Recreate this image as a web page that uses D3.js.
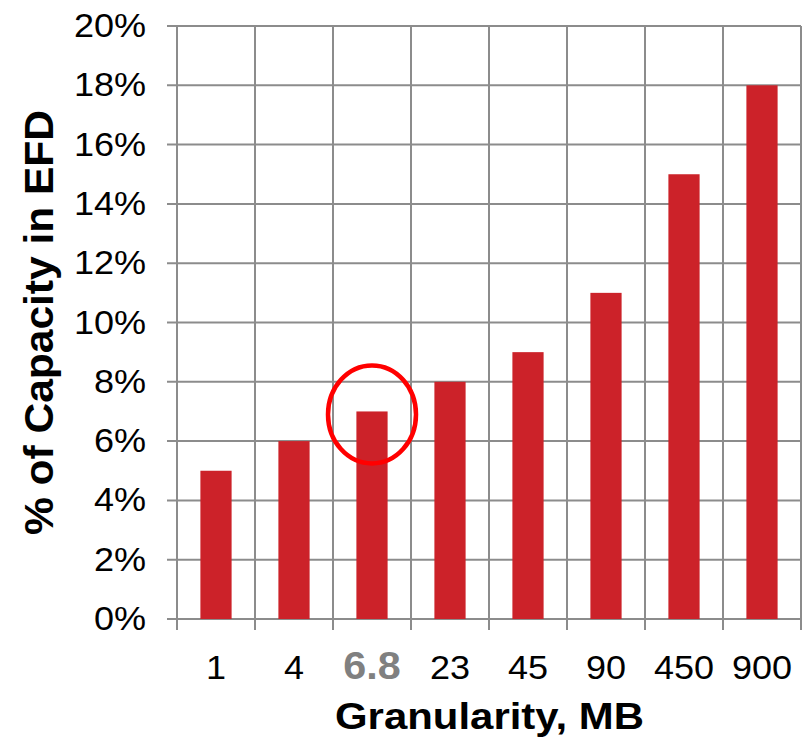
<!DOCTYPE html>
<html><head><meta charset="utf-8">
<script src="https://cdn.jsdelivr.net/npm/d3@7"></script>
<style>body{margin:0;background:#fff}svg{display:block}</style>
</head><body>
<script>
const categories = ["1","4","6.8","23","45","90","450","900"];
const values = [5,6,7,8,9,11,15,18];
const yTicks = [0,2,4,6,8,10,12,14,16,18,20];
const highlighted = "6.8";

const W = 804, H = 739;
const m = {left:177, right:3, top:26, bottom:120};
const svg = d3.select("body").append("svg").attr("width",W).attr("height",H)
  .style("font-family","'Liberation Sans', Arial, sans-serif");

const x = d3.scaleBand().domain(categories).range([m.left, W-m.right]).paddingInner(0.6).paddingOuter(0.3);
const xb = d3.scaleBand().domain(categories).range([m.left, W-m.right]);
const y = d3.scaleLinear().domain([0,20]).range([H-m.bottom, m.top]);
const grid = "#8c8c8c";

// horizontal gridlines + left ticks
svg.append("g").selectAll("line").data(yTicks).join("line")
  .attr("x1", m.left-10).attr("x2", W-m.right)
  .attr("y1", d=>y(d)).attr("y2", d=>y(d))
  .attr("stroke", grid).attr("stroke-width", 2);
// vertical gridlines
const vx = categories.map(c=>xb(c)).concat([xb(categories[categories.length-1])+xb.bandwidth()]);
svg.append("g").selectAll("line").data(vx).join("line")
  .attr("x1", d=>d).attr("x2", d=>d)
  .attr("y1", m.top).attr("y2", y(0)+11)
  .attr("stroke", grid).attr("stroke-width", 2);

// bars
svg.append("g").selectAll("rect").data(values).join("rect")
  .attr("x",(d,i)=>x(categories[i])).attr("width",x.bandwidth())
  .attr("y",d=>y(d)).attr("height",d=>y(0)-y(d))
  .attr("fill","#cc2229");

// y labels
svg.append("g").selectAll("text").data(yTicks).join("text")
  .attr("transform", d=>`translate(146,${y(d)+11}) scale(1.06,1)`)
  .attr("text-anchor","end").attr("font-size",34).attr("fill","#000")
  .text(d=>d+"%");

// x labels
svg.append("g").selectAll("text").data(categories).join("text")
  .attr("transform", d=>`translate(${xb(d)+xb.bandwidth()/2},679) scale(1.06,1)`)
  .attr("text-anchor","middle")
  .attr("font-size", d=>d===highlighted?39:34)
  .attr("font-weight", d=>d===highlighted?"bold":"normal")
  .attr("fill", d=>d===highlighted?"#808080":"#000")
  .text(d=>d);

// highlight ellipse
const hi = categories.indexOf(highlighted);
svg.append("ellipse")
  .attr("cx", xb(highlighted)+xb.bandwidth()/2)
  .attr("cy", y(values[hi]) + 3)
  .attr("rx", 44).attr("ry", 49)
  .attr("fill","none").attr("stroke","#ff0000").attr("stroke-width",4.5);

// axis titles
svg.append("text").attr("x", 489.5).attr("y", 729).attr("text-anchor","middle")
  .attr("font-size",37).attr("font-weight","bold")
  .attr("textLength",309).attr("lengthAdjust","spacingAndGlyphs")
  .text("Granularity, MB");
svg.append("text").attr("transform","translate(53,322.5) rotate(-90)")
  .attr("text-anchor","middle")
  .attr("font-size",40).attr("font-weight","bold")
  .attr("textLength",425).attr("lengthAdjust","spacingAndGlyphs")
  .text("% of Capacity in EFD");
</script>
</body></html>
